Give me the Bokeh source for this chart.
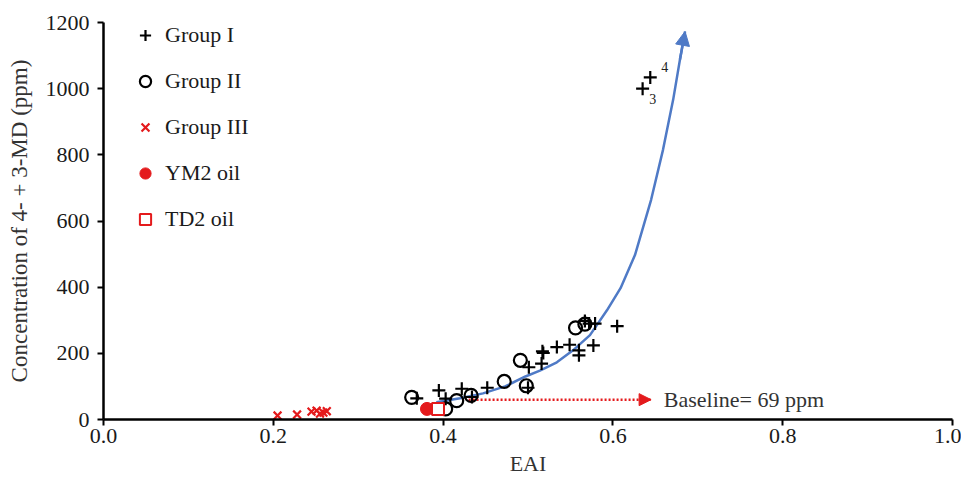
from bokeh.plotting import figure
from bokeh.models import (Range1d, FixedTicker, PrintfTickFormatter, Arrow, NormalHead,
                          Legend, LegendItem, Label)
from bokeh.embed import file_html
from bokeh.resources import INLINE

# ---------------- data ----------------
g1_x = [0.369, 0.395, 0.403, 0.422, 0.434, 0.452, 0.501, 0.500, 0.516, 0.518, 0.517,
        0.534, 0.549, 0.560, 0.560, 0.577, 0.567, 0.572, 0.579, 0.605, 0.635, 0.644]
g1_y = [64, 88, 63, 93, 68, 96, 158, 96, 169, 201, 206,
        219, 226, 209, 194, 224, 298, 290, 290, 282, 1000, 1034]

g2_x = [0.363, 0.403, 0.416, 0.433, 0.472, 0.491, 0.498, 0.556, 0.567]
g2_y = [67, 32, 57, 73, 115, 179, 102, 277, 288]

g3_x = [0.205, 0.228, 0.245, 0.251, 0.255, 0.259, 0.263]
g3_y = [12, 15, 24, 27, 18, 21, 25]

ym2_x = [0.381]
ym2_y = [32]

td2_x = [0.394]
td2_y = [32]

# trend curve
curve_x = [0.392, 0.420, 0.447, 0.473, 0.497, 0.514, 0.534, 0.553, 0.573, 0.593,
           0.609, 0.626, 0.645, 0.659, 0.671, 0.679, 0.685]
curve_y = [52, 64, 79, 100, 130, 148, 173, 209, 255, 330,
           397, 497, 664, 815, 967, 1088, 1173]

baseline_x = [0.430, 0.645]
baseline_y = [60, 60]
baseline_text = "Baseline= 69 ppm"

x_ticks = [0.0, 0.2, 0.4, 0.6, 0.8, 1.0]
y_ticks = [0, 200, 400, 600, 800, 1000, 1200]

FONT = "Liberation Serif"
FS = "22px"

p = figure(width=961, height=485, output_backend="svg", toolbar_location=None,
           x_range=Range1d(0, 1), y_range=Range1d(0, 1200),
           min_border_left=103, min_border_right=9, min_border_top=22, min_border_bottom=66)
p.outline_line_color = None
p.xgrid.visible = False
p.ygrid.visible = False
p.background_fill_color = "white"
p.border_fill_color = "white"

for ax in (p.xaxis[0], p.yaxis[0]):
    ax.axis_line_width = 2.5
    ax.axis_line_color = "black"
    ax.major_tick_line_width = 2
    ax.major_tick_line_color = "black"
    ax.major_tick_out = 6
    ax.major_tick_in = 0
    ax.minor_tick_line_color = None
    ax.major_label_text_font = FONT
    ax.major_label_text_font_size = FS
    ax.major_label_text_color = "#1a1a1a"
    ax.axis_label_text_font = FONT
    ax.axis_label_text_font_size = FS
    ax.axis_label_text_font_style = "normal"
    ax.axis_label_text_color = "#333333"

p.xaxis.ticker = FixedTicker(ticks=x_ticks)
p.xaxis.formatter = PrintfTickFormatter(format="%.1f")
p.yaxis.ticker = FixedTicker(ticks=y_ticks)
p.xaxis.axis_label = "EAI"
p.yaxis.axis_label = "Concentration of 4- + 3-MD (ppm)"
p.yaxis.axis_label_text_font_size = "23px"
p.xaxis.major_label_standoff = 3
p.yaxis.major_label_standoff = 8
p.xaxis.axis_label_standoff = 5
p.yaxis.axis_label_standoff = 11

# curve
p.line(curve_x, curve_y, line_color="#4f7ac6", line_width=2.5)
p.add_layout(Arrow(end=NormalHead(size=14, fill_color="#4f7ac6", line_color="#4f7ac6"),
                   x_start=curve_x[-2], y_start=curve_y[-2],
                   x_end=curve_x[-1], y_end=curve_y[-1],
                   line_color="#4f7ac6", line_width=2.5))

# baseline arrow
p.line(baseline_x, baseline_y, line_color="#e41a1c", line_width=2.5, line_dash="2 2")
p.add_layout(Arrow(end=NormalHead(size=12, fill_color="#e41a1c", line_color="#e41a1c"),
                   x_start=baseline_x[0], y_start=baseline_y[0],
                   x_end=baseline_x[1], y_end=baseline_y[1],
                   line_color=None, line_alpha=0))
p.add_layout(Label(x=baseline_x[1] + 0.015, y=baseline_y[1], text=baseline_text,
                   text_font=FONT, text_font_size=FS, text_color="#333333",
                   text_baseline="middle"))

# points
r1 = p.scatter(g1_x, g1_y, marker="cross", size=13, line_width=2.2, line_color="black")
r2 = p.scatter(g2_x, g2_y, marker="circle", size=13, line_width=2.2, line_color="black",
               fill_alpha=0)
r3 = p.scatter(g3_x, g3_y, marker="x", size=11, line_width=2.2, line_color="#e41a1c")
r4 = p.scatter(ym2_x, ym2_y, marker="circle", size=13, line_color="#e41a1c",
               fill_color="#e41a1c")
r5 = p.scatter(td2_x, td2_y, marker="square", size=12, line_width=2, line_color="#e41a1c",
               fill_color="white")

# point labels
p.add_layout(Label(x=g1_x[-1] + 0.017, y=g1_y[-1] + 30, text="4", text_font=FONT,
                   text_font_size="14px", text_color="#222222",
                   text_align="center", text_baseline="middle"))
p.add_layout(Label(x=g1_x[-2] + 0.012, y=g1_y[-2] - 30, text="3", text_font=FONT,
                   text_font_size="14px", text_color="#222222",
                   text_align="center", text_baseline="middle"))

legend = Legend(items=[LegendItem(label="Group I", renderers=[r1]),
                       LegendItem(label="Group II", renderers=[r2]),
                       LegendItem(label="Group III", renderers=[r3]),
                       LegendItem(label="YM2 oil", renderers=[r4]),
                       LegendItem(label="TD2 oil", renderers=[r5])],
                location=(28, 186), padding=0, margin=0, spacing=18,
                glyph_width=28, glyph_height=28, label_height=28, label_standoff=6,
                label_text_font=FONT, label_text_font_size=FS, label_text_color="#1a1a1a",
                border_line_color=None, background_fill_alpha=0)
p.add_layout(legend)

open("out.html", "w").write(file_html(p, INLINE))
